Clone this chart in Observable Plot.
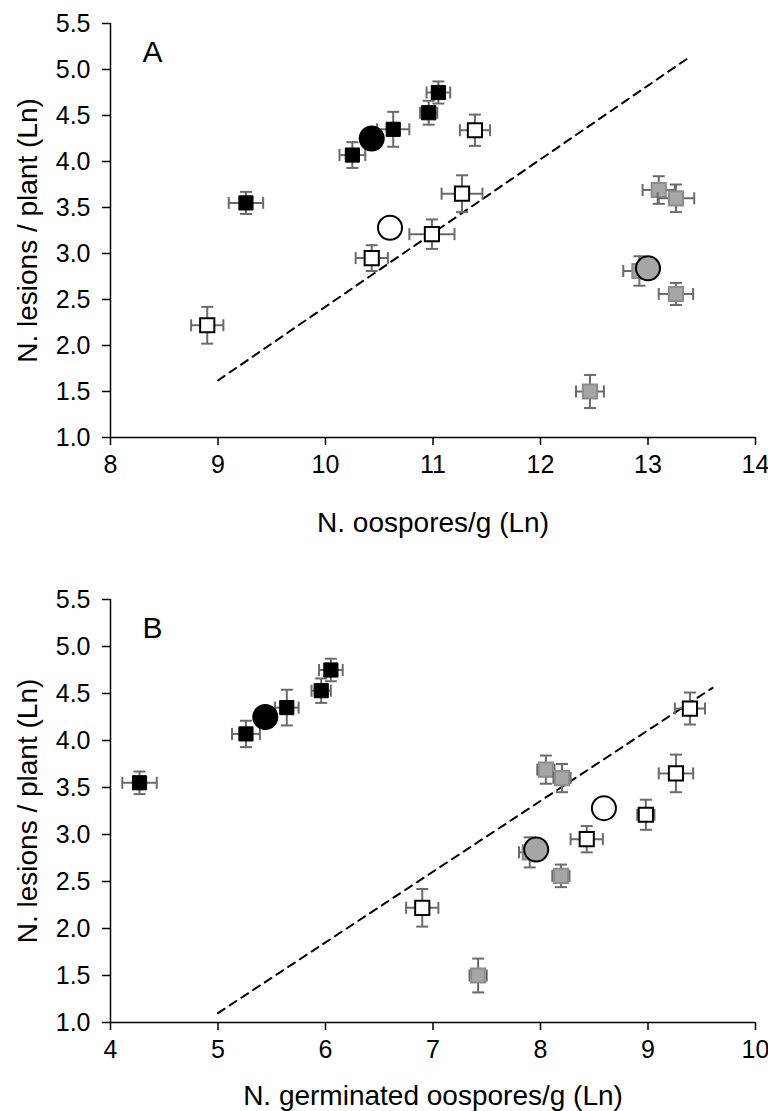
<!DOCTYPE html>
<html>
<head>
<meta charset="utf-8">
<script src="https://cdn.jsdelivr.net/npm/d3@7"></script>
<script src="https://cdn.jsdelivr.net/npm/@observablehq/plot@0.6"></script>
<style>
  html, body { margin: 0; padding: 0; background: #fff; }
  #chart svg { display: block; }
</style>
</head>
<body>
<div id="chart"></div>
<script>
// ---- data ----
const groups = ["black","black","black","black","black",
                "white","white","white","white","white",
                "gray","gray","gray","gray","gray"];
const lesions    = [3.55, 4.07, 4.35, 4.53, 4.75,  2.22, 2.95, 3.21, 3.65, 4.34,  1.50, 2.81, 3.69, 3.60, 2.56];
const lesionsErr = [0.12, 0.14, 0.19, 0.13, 0.12,  0.20, 0.14, 0.16, 0.20, 0.17,  0.18, 0.16, 0.15, 0.15, 0.12];
const oospores    = [9.26, 10.25, 10.63, 10.96, 11.05,  8.90, 10.43, 10.99, 11.27, 11.39,  12.46, 12.92, 13.10, 13.26, 13.26];
const oosporesErr = [0.16, 0.12, 0.15, 0.08, 0.11,  0.15, 0.15, 0.21, 0.19, 0.14,  0.13, 0.15, 0.15, 0.17, 0.16];
const germinated    = [4.27, 5.26, 5.64, 5.96, 6.05,  6.90, 8.43, 8.98, 9.26, 9.39,  7.42, 7.90, 8.05, 8.20, 8.19];
const germinatedErr = [0.16, 0.13, 0.11, 0.09, 0.11,  0.15, 0.15, 0.08, 0.16, 0.14,  0.08, 0.10, 0.08, 0.08, 0.08];

const meanGroups     = ["black", "white", "gray"];
const meanLesions    = [4.25, 3.28, 2.84];
const meanOospores   = [10.43, 10.60, 13.00];
const meanGerminated = [5.44, 8.59, 7.96];

const fitA_x = [9.0, 13.38];
const fitA_y = [1.62, 5.13];
const fitB_x = [5.0, 9.60];
const fitB_y = [1.10, 4.56];

const yTicks  = [1.0, 1.5, 2.0, 2.5, 3.0, 3.5, 4.0, 4.5, 5.0, 5.5];
const xTicksA = [8, 9, 10, 11, 12, 13, 14];
const xTicksB = [4, 5, 6, 7, 8, 9, 10];
const yTitle  = "N. lesions / plant (Ln)";
const xTitleA = "N. oospores/g (Ln)";
const xTitleB = "N. germinated oospores/g (Ln)";

// ---- styles ----
const fillOf   = {black: "#000000", white: "#ffffff", gray: "#a6a6a6"};
const strokeOf = {black: "#000000", white: "#000000", gray: "#8c8c8c"};
const errColor = "#6a6a6a";
const FONT = "'Liberation Sans', Arial, Helvetica, sans-serif";

const capH = {draw(ctx) { ctx.moveTo(-6, 0); ctx.lineTo(6, 0); }};
const capV = {draw(ctx) { ctx.moveTo(0, -6); ctx.lineTo(0, 6); }};

function panel({xs, xErr, meanX, fitX, fitY, xDomain, xTicks, xTitle, letter, height, marginTop, marginBottom, titleDy}) {
  const pts = groups.map((g, i) => ({g, x: xs[i], xe: xErr[i], y: lesions[i], ye: lesionsErr[i]}));
  const means = meanGroups.map((g, i) => ({g, x: meanX[i], y: meanLesions[i]}));
  const fit = fitX.map((x, i) => ({x, y: fitY[i]}));
  const order = ["gray", "white", "black"];
  const sorted = order.flatMap(g => pts.filter(d => d.g === g));
  const marks = [
    Plot.ruleY([1], {stroke: "#000", strokeWidth: 1.5}),
    Plot.ruleX([xDomain[0]], {stroke: "#000", strokeWidth: 1.5}),
    Plot.axisY({ticks: yTicks, tickFormat: d3.format(".1f"), tickSize: 8, tickPadding: 12, fontSize: 25, label: null, strokeWidth: 1.5}),
    Plot.axisX({ticks: xTicks, tickFormat: d => String(d), tickSize: 8, tickPadding: 10, fontSize: 25, label: null, strokeWidth: 1.5}),
    Plot.line(fit, {x: "x", y: "y", stroke: "#000", strokeWidth: 2, strokeDasharray: "8,6"})
  ];
  for (const d of sorted) {
    const one = [d];
    marks.push(
      Plot.ruleX(one, {x: "x", y1: p => p.y - p.ye, y2: p => p.y + p.ye, stroke: errColor, strokeWidth: 2}),
      Plot.ruleY(one, {y: "y", x1: p => p.x - p.xe, x2: p => p.x + p.xe, stroke: errColor, strokeWidth: 2}),
      Plot.dot(one, {x: "x", y: p => p.y - p.ye, symbol: capH, r: 6, stroke: errColor, strokeWidth: 2, fill: "none"}),
      Plot.dot(one, {x: "x", y: p => p.y + p.ye, symbol: capH, r: 6, stroke: errColor, strokeWidth: 2, fill: "none"}),
      Plot.dot(one, {x: p => p.x - p.xe, y: "y", symbol: capV, r: 6, stroke: errColor, strokeWidth: 2, fill: "none"}),
      Plot.dot(one, {x: p => p.x + p.xe, y: "y", symbol: capV, r: 6, stroke: errColor, strokeWidth: 2, fill: "none"}),
      Plot.dot(one, {x: "x", y: "y", symbol: "square", r: 8, fill: p => fillOf[p.g], stroke: p => strokeOf[p.g],
        strokeWidth: d.g === "black" ? 1 : 2})
    );
  }
  marks.push(
    Plot.dot(means, {x: "x", y: "y", r: 12, fill: p => fillOf[p.g], stroke: "#000", strokeWidth: 2}),
    Plot.text([letter], {frameAnchor: "top-left", dx: 42, dy: 29, text: d => d, fontSize: 30, textAnchor: "middle", lineAnchor: "middle", fill: "#000"}),
    Plot.text([xTitle], {frameAnchor: "bottom", dy: titleDy, text: d => d, fontSize: 28, textAnchor: "middle", lineAnchor: "middle", fill: "#000"}),
    Plot.text([yTitle], {frameAnchor: "left", dx: -82, rotate: -90, text: d => d, fontSize: 28, textAnchor: "middle", lineAnchor: "middle", fill: "#000"})
  );
  return Plot.plot({
    width: 768, height, marginLeft: 110, marginRight: 13, marginTop, marginBottom,
    style: {fontFamily: FONT, background: "#fff", color: "#000", overflow: "visible"},
    x: {domain: xDomain},
    y: {domain: [1, 5.5]},
    marks
  });
}

const chart = document.getElementById("chart");
chart.append(panel({
  xs: oospores, xErr: oosporesErr, meanX: meanOospores, fitX: fitA_x, fitY: fitA_y,
  xDomain: [8, 14], xTicks: xTicksA, xTitle: xTitleA, letter: "A",
  height: 550, marginTop: 23, marginBottom: 113, titleDy: 86
}));
chart.append(panel({
  xs: germinated, xErr: germinatedErr, meanX: meanGerminated, fitX: fitB_x, fitY: fitB_y,
  xDomain: [4, 10], xTicks: xTicksB, xTitle: xTitleB, letter: "B",
  height: 561, marginTop: 49, marginBottom: 89, titleDy: 74
}));
</script>
</body>
</html>
